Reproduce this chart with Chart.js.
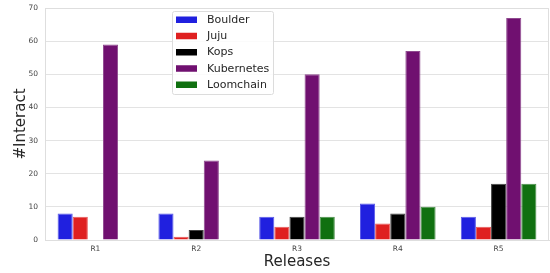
<!DOCTYPE html>
<html>
<head>
<meta charset="utf-8">
<script src="https://cdn.jsdelivr.net/npm/chart.js@4"></script>
<style>
  html, body { margin: 0; padding: 0; background: #fff; }
  #wrap { width: 550px; height: 273px; }
</style>
</head>
<body>
<div id="wrap"><canvas id="chart" width="550" height="273"></canvas></div>
<script>
// Data
const releases = ["R1", "R2", "R3", "R4", "R5"];
const boulder = [8, 8, 7, 11, 7];
const juju = [7, 1, 4, 5, 4];
const kops = [0, 3, 7, 8, 17];
const kubernetes = [59, 24, 50, 57, 67];
const loomchain = [0, 0, 7, 10, 17];
const yTicks = [0, 10, 20, 30, 40, 50, 60, 70];

const seriesNames = ["Boulder", "Juju", "Kops", "Kubernetes", "Loomchain"];
const seriesValues = [boulder, juju, kops, kubernetes, loomchain];
const fills = ["#2020df", "#df2020", "#000000", "#701070", "#107010"];
const edges = ["#5a5ae8", "#e85a5a", "#444444", "#8f4a8f", "#4a8f4a"];

const FONT = "'DejaVu Sans', sans-serif";

// legend drawn inside the plot, like matplotlib's upper-left-ish box
const boxLegend = {
  id: "boxLegend",
  afterDraw(chart) {
    const ctx = chart.ctx;
    const area = chart.chartArea;
    const x = area.left + 127, y = area.top + 3;
    const w = 101, h = 83;
    ctx.save();
    ctx.fillStyle = "rgba(255,255,255,0.85)";
    ctx.strokeStyle = "#dcdcdc";
    ctx.lineWidth = 1;
    ctx.beginPath();
    ctx.roundRect(x + 0.5, y + 0.5, w, h, 2);
    ctx.fill();
    ctx.stroke();
    ctx.font = "11px " + FONT;
    ctx.textBaseline = "middle";
    ctx.fillStyle = "#262626";
    seriesNames.forEach((name, i) => {
      const cy = y + 8.5 + i * 16.25;
      ctx.fillStyle = fills[i];
      ctx.fillRect(x + 4, cy - 3, 21, 6.5);
      ctx.fillStyle = "#262626";
      ctx.fillText(name, x + 35, cy + 0.5);
    });
    ctx.restore();
  }
};

// top and right spines
const frame = {
  id: "frame",
  beforeDatasetsDraw(chart) {
    const ctx = chart.ctx;
    const a = chart.chartArea;
    ctx.save();
    ctx.strokeStyle = "#dedede";
    ctx.lineWidth = 1;
    ctx.beginPath();
    ctx.moveTo(a.left, a.top + 0.5);
    ctx.lineTo(a.right - 0.5, a.top + 0.5);
    ctx.lineTo(a.right - 0.5, a.bottom);
    ctx.stroke();
    ctx.restore();
  }
};

new Chart(document.getElementById("chart"), {
  type: "bar",
  data: {
    labels: releases,
    datasets: seriesNames.map((name, i) => ({
      label: name,
      data: seriesValues[i],
      backgroundColor: fills[i],
      borderColor: edges[i],
      borderWidth: 1,
      categoryPercentage: 0.75,
      barPercentage: 1.0
    }))
  },
  options: {
    responsive: false,
    animation: false,
    layout: { padding: { top: 8, right: 1, left: 0, bottom: 0 } },
    plugins: {
      legend: { display: false },
      tooltip: { enabled: false }
    },
    scales: {
      x: {
        grid: { display: false, drawTicks: false },
        border: { color: "#dedede", width: 1 },
        ticks: { color: "#444", font: { family: FONT, size: 7.5 }, padding: 5 },
        title: {
          display: true,
          text: "Releases",
          color: "#262626",
          font: { family: FONT, size: 15 },
          padding: { top: 0, bottom: 2 }
        },
        afterFit(scale) { scale.height = 33; scale.paddingLeft = 0; scale.paddingRight = 0; }
      },
      y: {
        min: 0,
        max: 70,
        afterBuildTicks(scale) { scale.ticks = yTicks.map(v => ({ value: v })); },
        grid: { color: "#e3e3e3", lineWidth: 1, drawTicks: false },
        border: { color: "#dedede", width: 1 },
        ticks: { color: "#444", font: { family: FONT, size: 7.5 }, padding: 7 },
        title: {
          display: true,
          text: "#Interact",
          color: "#262626",
          font: { family: FONT, size: 15 },
          padding: { top: 12, bottom: 0 }
        },
        afterFit(scale) { scale.width = 45; scale.paddingTop = 0; scale.paddingBottom = 0; }
      }
    }
  },
  plugins: [frame, boxLegend]
});
</script>
</body>
</html>
